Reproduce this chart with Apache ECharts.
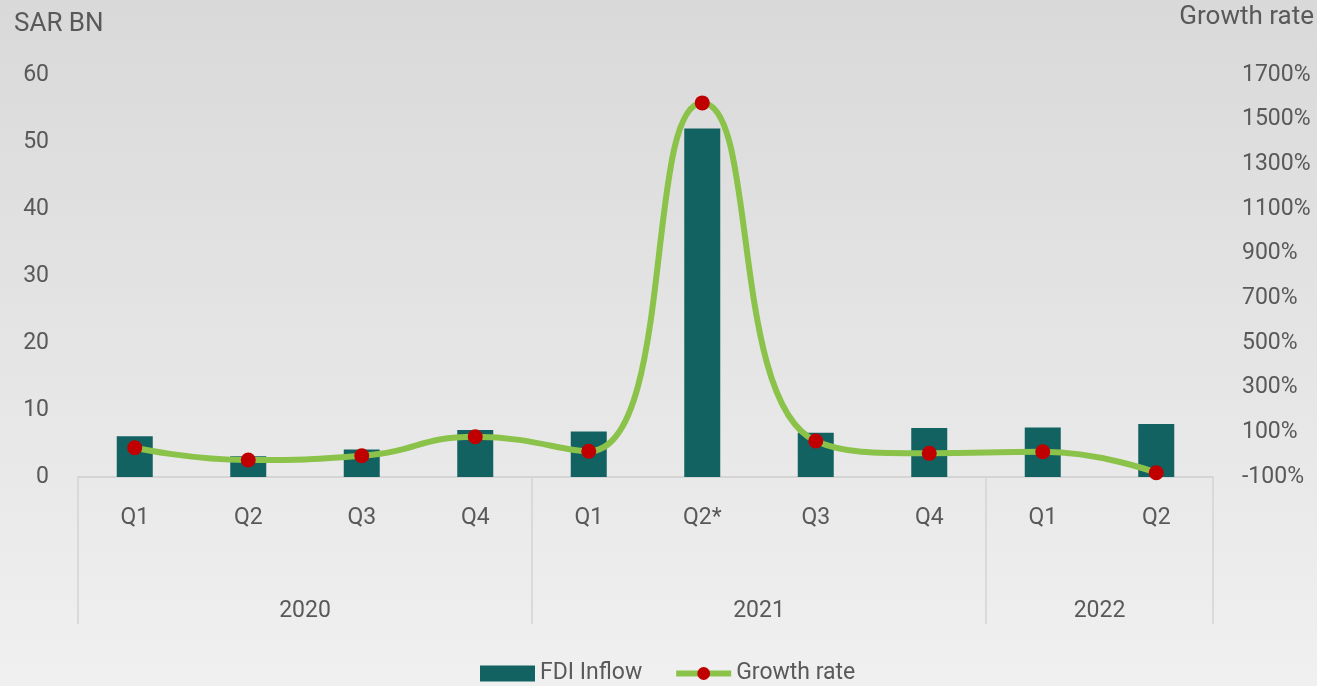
<!DOCTYPE html>
<html>
<head>
<meta charset="utf-8">
<script src="https://cdn.jsdelivr.net/npm/echarts@6/dist/echarts.min.js"></script>
<style>
html,body{margin:0;padding:0;}
#chart{width:1317px;height:686px;}
</style>
</head>
<body>
<div id="chart"></div>
<script>
const quarters = ['Q1','Q2','Q3','Q4','Q1','Q2*','Q3','Q4','Q1','Q2'];
const years = ['2020','2021','2022'];
const yearSpans = [4, 4, 2];
const fdiInflow = [6.1, 3.1, 4.1, 7.0, 6.8, 52, 6.6, 7.3, 7.4, 7.9];
const growthRate = [31, -24, -5, 80, 15, 1575, 61, 6, 13, -81];
const leftTicks = [0, 60, 10];
const rightTicks = [-100, 1700, 200];

const boundaries = [0];
const centers = [];
yearSpans.forEach(function (s) {
  const start = boundaries[boundaries.length - 1];
  centers.push(start + s / 2);
  boundaries.push(start + s);
});

const textColor = '#595959';
const font = 'Roboto';
const fs = 23;
const gridBox = { left: 78, right: 104, top: 75, bottom: 209 };

const chart = echarts.init(document.getElementById('chart'));
chart.setOption({
  backgroundColor: new echarts.graphic.LinearGradient(0, 0, 0, 1, [
    { offset: 0, color: '#d9d9d9' },
    { offset: 1, color: '#f0f0f0' }
  ]),
  textStyle: { fontFamily: font },
  title: [
    { text: 'SAR BN', left: 9, top: 6, textStyle: { color: textColor, fontSize: 26, fontWeight: 'normal', fontFamily: font } },
    { text: 'Growth rate', right: -2, top: -1, textStyle: { color: textColor, fontSize: 26, fontWeight: 'normal', fontFamily: font } }
  ],
  legend: {
    left: 475, top: 657,
    itemWidth: 55, itemHeight: 16, itemGap: 31,
    textStyle: { color: textColor, fontSize: fs, fontFamily: font },
    lineStyle: { width: 6 },
    data: [{ name: 'FDI Inflow', icon: 'rect' }, { name: 'Growth rate' }]
  },
  grid: [
    Object.assign({}, gridBox),
    Object.assign({}, gridBox)
  ],
  xAxis: [
    {
      type: 'category', gridIndex: 0, data: quarters,
      axisLine: { show: true, lineStyle: { color: '#d4d4d4', width: 2 } },
      axisTick: { show: false },
      axisLabel: { color: textColor, fontSize: fs, fontFamily: font, margin: 30 },
      splitLine: { show: false }
    },
    {
      type: 'value', gridIndex: 1, min: 0, max: quarters.length,
      axisLine: { show: false },
      splitLine: { show: false },
      axisTick: {
        show: true, customValues: boundaries, length: 147, inside: false,
        lineStyle: { color: '#d4d4d4', width: 1.5 }
      },
      axisLabel: {
        show: true, customValues: centers, margin: 123,
        color: textColor, fontSize: fs, fontFamily: font,
        formatter: function (v) {
          const i = centers.indexOf(v);
          return i >= 0 ? years[i] : '';
        }
      }
    }
  ],
  yAxis: [
    {
      type: 'value', gridIndex: 0, min: leftTicks[0], max: leftTicks[1], interval: leftTicks[2],
      axisLine: { show: false }, axisTick: { show: false }, splitLine: { show: false },
      axisLabel: { color: textColor, fontSize: fs, fontFamily: font, margin: 29 }
    },
    {
      type: 'value', gridIndex: 0, position: 'right', min: rightTicks[0], max: rightTicks[1], interval: rightTicks[2],
      axisLine: { show: false }, axisTick: { show: false }, splitLine: { show: false },
      axisLabel: {
        color: textColor, fontSize: fs, fontFamily: font, margin: 29,
        formatter: function (v) { return String(v) + '%'; }
      }
    },
    {
      type: 'value', gridIndex: 1, min: 0, max: 1, show: false
    }
  ],
  series: [
    {
      name: 'FDI Inflow', type: 'bar', xAxisIndex: 0, yAxisIndex: 0,
      data: fdiInflow, barWidth: 36,
      itemStyle: { color: '#136262' }
    },
    {
      name: 'Growth rate', type: 'line', xAxisIndex: 0, yAxisIndex: 1,
      data: growthRate, smooth: 0.5,
      symbol: 'circle', symbolSize: 15,
      lineStyle: { color: '#8bc249', width: 6 },
      itemStyle: { color: '#c00000' },
      z: 5
    }
  ]
});
</script>
</body>
</html>
